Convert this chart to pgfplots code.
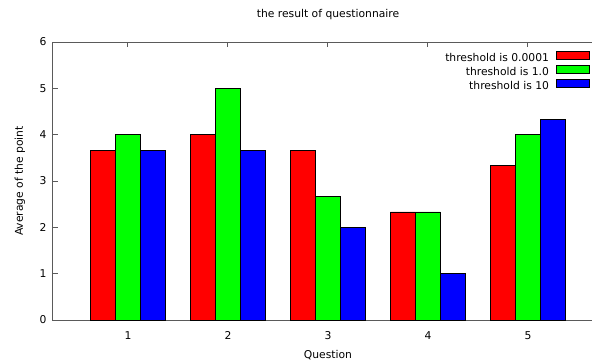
\documentclass[border=0pt]{standalone}
\usepackage{pgfplots}
\pgfplotsset{compat=1.18}
\usepackage{fontspec}
\setmainfont{DejaVu Sans}
\definecolor{axisgray}{HTML}{5A5A5A}
\begin{document}
\begin{tikzpicture}
\begin{axis}[
  scale only axis, width=550bp, height=278bp,
  xmin=0.25, xmax=5.75, ymin=0, ymax=6,
  xtick={1,2,3,4,5}, ytick={0,1,2,3,4,5,6},
  tick align=inside, major tick length=5bp,
  axis line style={draw=axisgray, line width=1bp},
  every tick/.style={draw=axisgray, line width=1bp},
  font=\fontsize{10.8}{13}\selectfont,
  /pgf/number format/assume math mode=true,
  yticklabel style={xshift=-3bp},
  xticklabel style={yshift=-8bp},
  title={the result of questionnaire},
  title style={at={(axis description cs:0.5,1.079)}, anchor=center},
  xlabel={Question},
  xlabel style={at={(axis description cs:0.5,-0.126)}, anchor=center},
  ylabel={Average of the point},
  ylabel style={at={(axis description cs:-0.06,0.5)}, anchor=center},
  legend cell align=right,
  legend plot pos=right,
  legend style={at={(axis description cs:1,1)}, anchor=north east, xshift=-10bp, yshift=-7bp,
    draw=none, fill=none, row sep=0pt,
    nodes={inner ysep=1.5bp, inner xsep=3bp, text height=8bp, text depth=2.5bp}},
]
\addplot[ybar, bar width=25bp, bar shift=-25bp, fill=red, draw=black, line width=0.8bp,
  legend image code/.code={\path (0bp,0bp); \draw[fill=red,draw=black,line width=0.8bp] (4bp,-0.5bp) rectangle (37bp,7bp);}]
  coordinates {(1,3.667) (2,4) (3,3.667) (4,2.333) (5,3.333)};
\addlegendentry{threshold is 0.0001}
\addplot[ybar, bar width=25bp, bar shift=0bp, fill=green, draw=black, line width=0.8bp,
  legend image code/.code={\path (0bp,0bp); \draw[fill=green,draw=black,line width=0.8bp] (4bp,-0.5bp) rectangle (37bp,7bp);}]
  coordinates {(1,4) (2,5) (3,2.667) (4,2.333) (5,4)};
\addlegendentry{threshold is 1.0}
\addplot[ybar, bar width=25bp, bar shift=25bp, fill=blue, draw=black, line width=0.8bp,
  legend image code/.code={\path (0bp,0bp); \draw[fill=blue,draw=black,line width=0.8bp] (4bp,-0.5bp) rectangle (37bp,7bp);}]
  coordinates {(1,3.667) (2,3.667) (3,2) (4,1) (5,4.333)};
\addlegendentry{threshold is 10}
\coordinate (O) at (rel axis cs:0,0);
\end{axis}
\pgfresetboundingbox
\path ([shift={(-53bp,-43bp)}]O) rectangle ++(592bp,363bp);
\end{tikzpicture}
\end{document}
